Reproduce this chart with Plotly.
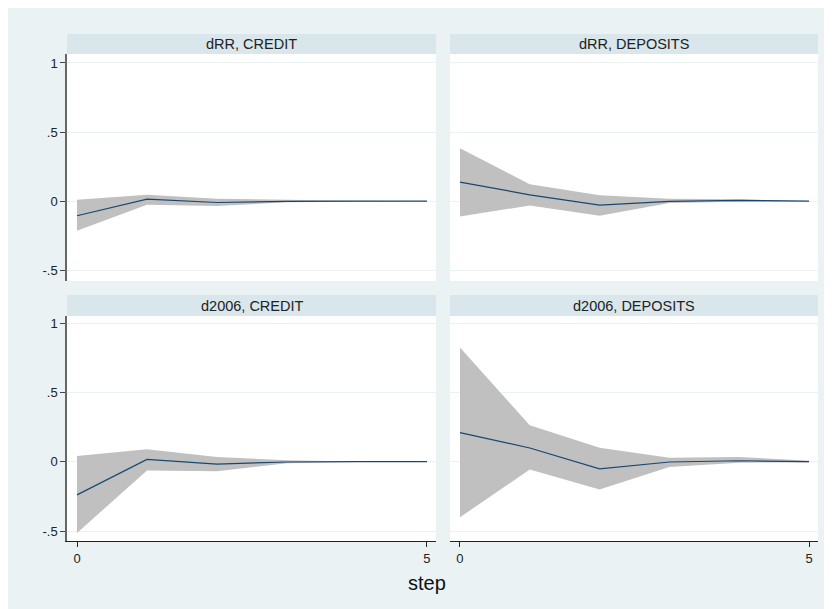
import plotly.graph_objects as go

steps = [0, 1, 2, 3, 4, 5]

panel_titles = ["dRR, CREDIT", "dRR, DEPOSITS", "d2006, CREDIT", "d2006, DEPOSITS"]

# impulse responses and confidence bands
irf_drr_credit = [-0.106, 0.015, -0.010, -0.002, 0.0, 0.0]
up_drr_credit = [0.010, 0.046, 0.017, 0.008, 0.003, 0.0]
lo_drr_credit = [-0.215, -0.027, -0.036, -0.008, -0.003, 0.0]

irf_drr_dep = [0.138, 0.046, -0.029, -0.002, 0.005, 0.0]
up_drr_dep = [0.382, 0.123, 0.043, 0.017, 0.014, 0.002]
lo_drr_dep = [-0.111, -0.031, -0.106, -0.014, -0.005, -0.002]

irf_d06_credit = [-0.239, 0.017, -0.017, -0.002, 0.0, 0.0]
up_d06_credit = [0.041, 0.089, 0.034, 0.010, 0.002, 0.0]
lo_d06_credit = [-0.514, -0.063, -0.068, -0.012, -0.002, 0.0]

irf_d06_dep = [0.210, 0.099, -0.051, -0.002, 0.007, 0.0]
up_d06_dep = [0.824, 0.263, 0.101, 0.029, 0.034, 0.007]
lo_d06_dep = [-0.401, -0.056, -0.200, -0.039, -0.007, -0.005]

y_tickvals = [-0.5, 0, 0.5, 1]
y_ticktext = ["-.5", "0", ".5", "1"]
x_tickvals = [0, 5]
x_ticktext = ["0", "5"]

panels = [
    (irf_drr_credit, up_drr_credit, lo_drr_credit),
    (irf_drr_dep, up_drr_dep, lo_drr_dep),
    (irf_d06_credit, up_d06_credit, lo_d06_credit),
    (irf_d06_dep, up_d06_dep, lo_d06_dep),
]

BG = "#eaf2f3"
STRIP = "#d9e6eb"
LINE = "#1a476f"
BAND = "#c0c0c0"
FONT = "Arial, Liberation Sans, sans-serif"

OFF = 8  # page body margin
W, H = 832 - OFF, 609 - OFF
# plot area edges in page pixels
PL, PR, PT, PB = 67, 818, 54, 541
ml, mr, mt, mb = PL - OFF, W - (PR - OFF), PT - OFF, H - (PB - OFF)
pw = PR - PL
ph = PB - PT

def px_x(x):
    return (x - PL) / pw

def px_y(y):
    return (PB - y) / ph

xdom = [[px_x(67), px_x(436)], [px_x(450), px_x(818)]]
ydom = [[px_y(281), px_y(54)], [px_y(541), px_y(316)]]
yranges = [[-0.578, 1.065], [-0.572, 1.051]]

fig = go.Figure()

for i, (irf, up, lo) in enumerate(panels):
    r, c = divmod(i, 2)
    n = i + 1
    xa = "x" if n == 1 else f"x{n}"
    ya = "y" if n == 1 else f"y{n}"
    fig.add_trace(go.Scatter(
        x=steps + steps[::-1], y=up + lo[::-1], fill="toself",
        fillcolor=BAND, line=dict(width=0, color=BAND), mode="lines",
        hoverinfo="skip", showlegend=False, xaxis=xa, yaxis=ya))
    fig.add_trace(go.Scatter(
        x=steps, y=irf, mode="lines", line=dict(color=LINE, width=1.2),
        showlegend=False, xaxis=xa, yaxis=ya))

    xkey = "xaxis" if n == 1 else f"xaxis{n}"
    ykey = "yaxis" if n == 1 else f"yaxis{n}"
    bottom = r == 1
    left = c == 0
    fig.layout[xkey] = dict(
        domain=xdom[c], range=[-0.143, 5.129], anchor=ya,
        showgrid=False, zeroline=False,
        showline=bottom, linecolor="#222222", linewidth=1.3,
        ticks="outside" if bottom else "", ticklen=5, tickcolor="#222222",
        tickvals=x_tickvals, ticktext=x_ticktext, showticklabels=bottom,
        tickfont=dict(family=FONT, size=13, color="#222222"))
    fig.layout[ykey] = dict(
        domain=ydom[r], range=yranges[r], anchor=xa,
        showgrid=True, gridcolor=BG, gridwidth=1, zeroline=False,
        showline=left, linecolor="#666666", linewidth=1.5,
        ticks="outside" if left else "", ticklen=5, tickcolor="#444444",
        tickvals=y_tickvals, ticktext=y_ticktext, showticklabels=left,
        tickfont=dict(family=FONT, size=13, color="#222222"))

shapes = []
annotations = []
strip_y = [[px_y(54), px_y(34)], [px_y(316), px_y(295)]]
for i, t in enumerate(panel_titles):
    r, c = divmod(i, 2)
    shapes.append(dict(type="rect", xref="paper", yref="paper",
                       x0=xdom[c][0], x1=xdom[c][1],
                       y0=strip_y[r][0], y1=strip_y[r][1],
                       fillcolor=STRIP, line=dict(width=0)))
    annotations.append(dict(text=t, xref="paper", yref="paper",
                            x=(xdom[c][0] + xdom[c][1]) / 2,
                            y=(strip_y[r][0] + strip_y[r][1]) / 2,
                            showarrow=False, xanchor="center", yanchor="middle",
                            font=dict(family=FONT, size=14.5, color="#222222")))
annotations.append(dict(text="step", xref="paper", yref="paper",
                        x=px_x(427), y=px_y(583), showarrow=False,
                        xanchor="center", yanchor="middle",
                        font=dict(family=FONT, size=20, color="#111111")))

fig.update_layout(
    width=W, height=H,
    margin=dict(l=ml, r=mr, t=mt, b=mb),
    paper_bgcolor=BG, plot_bgcolor="white",
    shapes=shapes, annotations=annotations,
    showlegend=False,
)

fig.write_html("out.html")
